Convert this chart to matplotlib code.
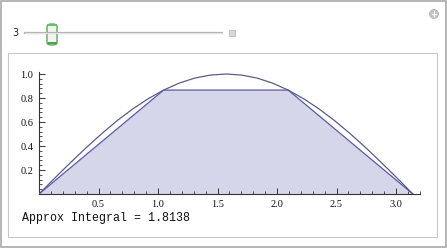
import matplotlib.pyplot as plt
from matplotlib.patches import Rectangle, FancyBboxPatch, Ellipse
from matplotlib.ticker import MultipleLocator

# curve samples (the smooth arc)
curve_x = [0.0, 0.131, 0.262, 0.393, 0.524, 0.654, 0.785, 0.916, 1.047, 1.178, 1.309,
           1.440, 1.571, 1.702, 1.833, 1.963, 2.094, 2.225, 2.356, 2.487, 2.618, 2.749,
           2.880, 3.011, 3.142]
curve_y = [0.0, 0.131, 0.259, 0.383, 0.500, 0.609, 0.707, 0.793, 0.866, 0.924, 0.966,
           0.991, 1.000, 0.991, 0.966, 0.924, 0.866, 0.793, 0.707, 0.609, 0.500, 0.383,
           0.259, 0.131, 0.0]

# trapezoid nodes (n = 3)
trap_x = [0.0, 1.0472, 2.0944, 3.1416]
trap_y = [0.0, 0.866, 0.866, 0.0]

x_ticks = [0.5, 1.0, 1.5, 2.0, 2.5, 3.0]
y_ticks = [0.2, 0.4, 0.6, 0.8, 1.0]
slider_value = "3"
result_label = "Approx Integral = 1.8138"

W, H = 447, 249
fig = plt.figure(figsize=(W / 100, H / 100), dpi=100)
fig.patch.set_facecolor("white")


def px_rect(x0, y0, x1, y1, **kw):
    # rectangle in pixel coords (top-left origin)
    return Rectangle((x0 / W, 1 - y1 / H), (x1 - x0) / W, (y1 - y0) / H,
                     transform=fig.transFigure, **kw)


# outer frame and inner panel (kept below the axes)
fig.patches.append(px_rect(1, 1, 446, 247, fill=False, edgecolor="#a9a9a9", linewidth=1.2, zorder=-2))
fig.patches.append(px_rect(8, 53, 437, 237, facecolor="white", edgecolor="#c8c8c8", linewidth=0.8, zorder=-1))

# slider controls
fig.text(12 / W, 1 - 33 / H, slider_value, fontsize=7, va="center", ha="left",
         family="DejaVu Sans", color="#222222")
fig.add_artist(plt.Line2D([25 / W, 222 / W], [1 - 33 / H] * 2, transform=fig.transFigure,
                          color="#b5b5b5", linewidth=1.6))
fig.add_artist(plt.Line2D([25 / W, 222 / W], [1 - 33 / H] * 2, transform=fig.transFigure,
                          color="#ececec", linewidth=0.6))
thumb = FancyBboxPatch((47 / W, 1 - 45 / H), 10 / W, 21 / H,
                       boxstyle="round,pad=0,rounding_size=0.01",
                       transform=fig.transFigure, facecolor="#f4f4f0",
                       edgecolor="#5aa85a", linewidth=1.0)
fig.patches.append(thumb)
fig.patches.append(px_rect(47.5, 24, 56.5, 26, facecolor="#6cbf6c", edgecolor="none"))
fig.patches.append(px_rect(47.5, 42, 56.5, 44.5, facecolor="#4f9f4f", edgecolor="none"))
fig.patches.append(px_rect(229, 30, 235, 36, facecolor="#d8d8d8", edgecolor="#bdbdbd", linewidth=0.6))
fig.patches.append(Ellipse((434 / W, 1 - 14 / H), 9 / W, 9 / H, transform=fig.transFigure,
                           facecolor="#c4c4c4", edgecolor="#b0b0b0", linewidth=0.5))
fig.text(434 / W, 1 - 14.3 / H, "+", fontsize=6, color="white", ha="center", va="center",
         fontweight="bold")

# plot axes: x=0 at px 39, y=0 at px 194
ax = fig.add_axes([39 / W, (H - 194) / H, 380.8 / W, 122.4 / H])
ax.set_zorder(2)
ax.set_xlim(0, 3.2)
ax.set_ylim(0, 1.02)
ax.patch.set_alpha(0)

ax.fill(trap_x, trap_y, color="#d6d6ea", zorder=1, linewidth=0)
ax.plot(trap_x, trap_y, color="#5a5aa8", linewidth=0.9, zorder=2)
ax.plot(curve_x, curve_y, color="#5c5c8c", linewidth=0.9, zorder=3)

for side in ["top", "right"]:
    ax.spines[side].set_visible(False)
for side in ["left", "bottom"]:
    ax.spines[side].set_color("#333333")
    ax.spines[side].set_linewidth(0.8)

ax.set_xticks(x_ticks)
ax.set_yticks(y_ticks)
ax.set_xticklabels([f"{v:.1f}" for v in x_ticks])
ax.set_yticklabels([f"{v:.1f}" for v in y_ticks])
ax.xaxis.set_minor_locator(MultipleLocator(0.1))
ax.yaxis.set_minor_locator(MultipleLocator(0.04))
ax.tick_params(which="major", direction="in", length=4, width=0.7, color="#333333",
               labelsize=7.5, pad=4)
ax.tick_params(which="minor", direction="in", length=2, width=0.6, color="#333333")
for lab in ax.get_xticklabels() + ax.get_yticklabels():
    lab.set_family("Liberation Serif")
    lab.set_color("#111111")

fig.text(22 / W, 1 - 218 / H, result_label, fontsize=8.4, family="Liberation Mono",
         va="center", ha="left", color="#111111")

fig.savefig("out.png", dpi=100, facecolor="white")
